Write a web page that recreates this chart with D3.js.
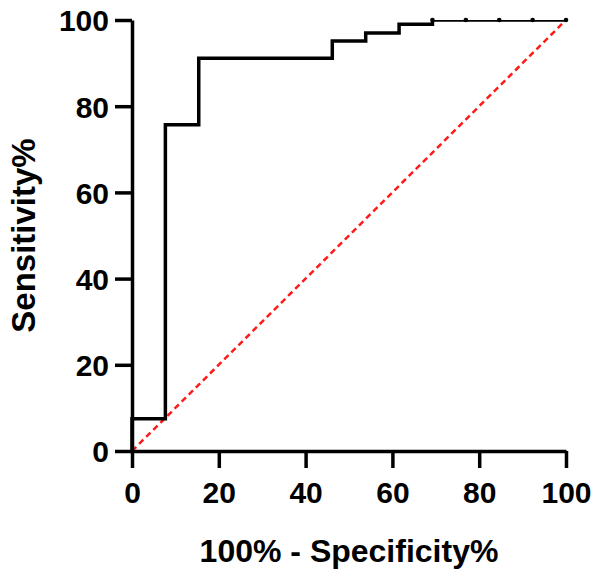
<!DOCTYPE html>
<html>
<head>
<meta charset="utf-8">
<script src="https://cdn.jsdelivr.net/npm/d3@7"></script>
<style>
  body { margin: 0; background: #fff; }
  text { font-family: "Liberation Sans", Arial, sans-serif; font-weight: bold; }
</style>
</head>
<body>
<script>
// ROC points (100% - specificity, sensitivity)
var fpr  = [0, 0,   7.69, 15.38, 46.15, 53.85, 61.54, 69.23, 76.92, 84.62, 92.31, 100];
var sens = [0, 7.5, 75.7, 91.1,  95.1,  97.0,  99.0,  100,   100,   100,   100,   100];
var xTicks = [0, 20, 40, 60, 80, 100];
var yTicks = [0, 20, 40, 60, 80, 100];

var margin = {top: 20, right: 34, bottom: 127, left: 132},
    width = 600 - margin.left - margin.right,
    height = 578 - margin.top - margin.bottom;

var svg = d3.select("body").append("svg")
    .attr("width", 600)
    .attr("height", 578)
  .append("g")
    .attr("transform", "translate(" + margin.left + "," + margin.top + ")");

var x = d3.scaleLinear().domain([0, 100]).range([0, width]);
var y = d3.scaleLinear().domain([0, 100]).range([height, 0]);

var points = fpr.map(function(d, i) { return [d, sens[i]]; });

// clip at the plot frame so the top segment looks half width
svg.append("clipPath").attr("id", "plotclip")
  .append("rect")
    .attr("x", -10).attr("y", 0)
    .attr("width", width + 20).attr("height", height + 10);

// reference diagonal
svg.append("line")
    .attr("x1", x(0)).attr("y1", y(0))
    .attr("x2", x(100)).attr("y2", y(100))
    .style("stroke", "#ff1a1a")
    .style("stroke-width", 2.5)
    .style("stroke-dasharray", "6,4");

var line = d3.line()
    .x(function(d) { return x(d[0]); })
    .y(function(d) { return y(d[1]); })
    .curve(d3.curveStepAfter);

svg.append("path")
    .datum(points)
    .attr("d", line)
    .attr("clip-path", "url(#plotclip)")
    .style("fill", "none")
    .style("stroke", "black")
    .style("stroke-width", 3.5);

svg.selectAll(".dot")
    .data(points.filter(function(d) { return d[1] >= 100; }))
  .enter().append("circle")
    .attr("cx", function(d) { return x(d[0]); })
    .attr("cy", function(d) { return y(d[1]); })
    .attr("r", 2.3)
    .style("fill", "black");

var xAxis = d3.axisBottom(x).tickValues(xTicks).tickSize(17).tickPadding(14).tickSizeOuter(0);
var yAxis = d3.axisLeft(y).tickValues(yTicks).tickSize(17).tickPadding(6).tickSizeOuter(0);

var gx = svg.append("g")
    .attr("class", "x axis")
    .attr("transform", "translate(0," + height + ")")
    .call(xAxis);
var gy = svg.append("g")
    .attr("class", "y axis")
    .call(yAxis);

[gx, gy].forEach(function(g) {
  g.select(".domain").style("stroke", "black").style("stroke-width", 3.5);
  g.selectAll(".tick line").style("stroke", "black").style("stroke-width", 3.5);
  g.selectAll(".tick text")
    .style("font-size", "30px")
    .style("font-family", "'Liberation Sans', Arial, sans-serif")
    .style("font-weight", "bold")
    .style("fill", "black");
});
gy.selectAll(".tick text").attr("dy", "0.36em");

svg.append("text")
    .attr("x", width / 2)
    .attr("y", height + 111)
    .style("text-anchor", "middle")
    .style("font-size", "32px")
    .text("100% - Specificity%");

svg.append("text")
    .attr("transform", "rotate(-90)")
    .attr("x", -height / 2)
    .attr("y", 35 - margin.left)
    .style("text-anchor", "middle")
    .style("font-size", "33px")
    .text("Sensitivity%");
</script>
</body>
</html>
